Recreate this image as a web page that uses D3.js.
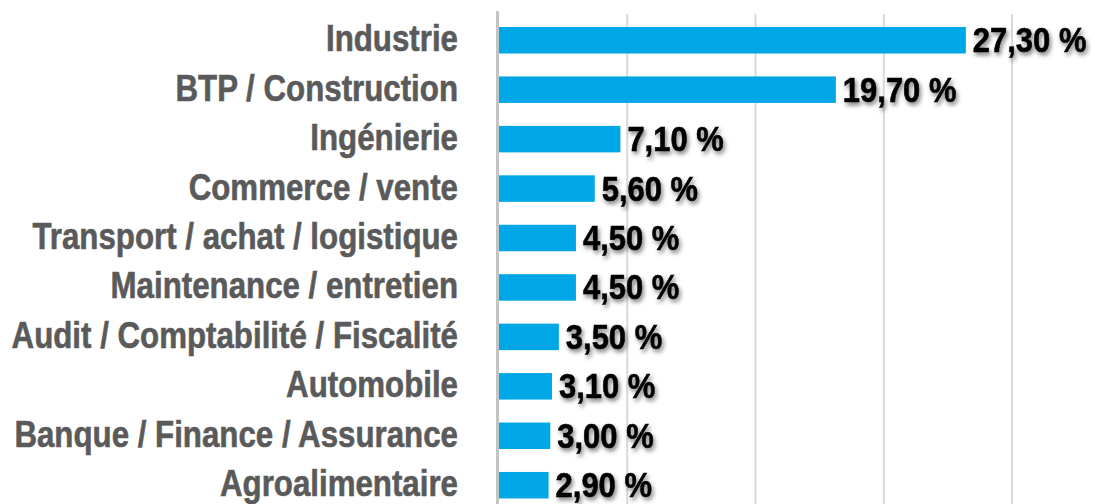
<!DOCTYPE html>
<html>
<head>
<meta charset="utf-8">
<script src="https://cdn.jsdelivr.net/npm/d3@7"></script>
<style>
  html, body { margin: 0; padding: 0; background: #fff; }
  svg { display: block; }
</style>
</head>
<body>
<svg id="chart" width="1095" height="504"></svg>
<script>
const categories = [
  "Industrie",
  "BTP / Construction",
  "Ingénierie",
  "Commerce / vente",
  "Transport / achat / logistique",
  "Maintenance / entretien",
  "Audit / Comptabilité / Fiscalité",
  "Automobile",
  "Banque / Finance / Assurance",
  "Agroalimentaire"
];
const values = [27.3, 19.7, 7.1, 5.6, 4.5, 4.5, 3.5, 3.1, 3.0, 2.9];
const valueLabels = ["27,30 %", "19,70 %", "7,10 %", "5,60 %", "4,50 %", "4,50 %", "3,50 %", "3,10 %", "3,00 %", "2,90 %"];
const gridTicks = [7.5, 15, 22.5, 30];

const svg = d3.select("#chart");
const fontFam = "'Liberation Sans', Arial, sans-serif";
const labelScaleX = 0.845;
const valueScaleX = 0.86;

const x = d3.scaleLinear().domain([0, 30]).range([499, 1012]);
const step = 49.44;
const y = d3.scaleBand().domain(categories)
  .range([27, 27 + step * (categories.length - 0.464)])
  .paddingInner(0.464).paddingOuter(0);

const defs = svg.append("defs");
const f = defs.append("filter").attr("id", "shadow")
  .attr("x", "-10%").attr("y", "-20%").attr("width", "130%").attr("height", "160%");
f.append("feDropShadow").attr("dx", 2).attr("dy", 3).attr("stdDeviation", 2.2)
  .attr("flood-color", "#000").attr("flood-opacity", 0.5);

// gridlines
svg.append("g").selectAll("line").data(gridTicks).join("line")
  .attr("x1", d => x(d)).attr("x2", d => x(d))
  .attr("y1", 14).attr("y2", 504)
  .attr("stroke", "#d9d9d9").attr("stroke-width", 2);

// bars
svg.append("g").selectAll("rect").data(values).join("rect")
  .attr("x", x(0))
  .attr("y", (d, i) => y(categories[i]))
  .attr("width", d => x(d) - x(0))
  .attr("height", y.bandwidth())
  .attr("fill", "#00a7e7");

// axis line
svg.append("line")
  .attr("x1", 497.5).attr("x2", 497.5).attr("y1", 11).attr("y2", 504)
  .attr("stroke", "#c4c4c4").attr("stroke-width", 3);

// category labels
svg.append("g").selectAll("text").data(categories).join("text")
  .attr("transform", d => `translate(458, ${y(d) + y.bandwidth() / 2 + 11}) scale(${labelScaleX},1)`)
  .attr("text-anchor", "end")
  .attr("font-family", fontFam)
  .attr("font-weight", "bold")
  .attr("font-size", 37)
  .attr("fill", "#5a5a5a")
  .attr("stroke", "#5a5a5a")
  .attr("stroke-width", 0.6)
  .text(d => d);

// value labels
svg.append("g").selectAll("text").data(values).join("text")
  .attr("transform", (d, i) => `translate(${x(d) + 7}, ${y(categories[i]) + y.bandwidth() / 2 + 12}) scale(${valueScaleX},1)`)
  .attr("font-family", fontFam)
  .attr("font-weight", "bold")
  .attr("font-size", 36)
  .attr("fill", "#000")
  .attr("stroke", "#000")
  .attr("stroke-width", 0.6)
  .attr("filter", "url(#shadow)")
  .text((d, i) => valueLabels[i]);
</script>
</body>
</html>
